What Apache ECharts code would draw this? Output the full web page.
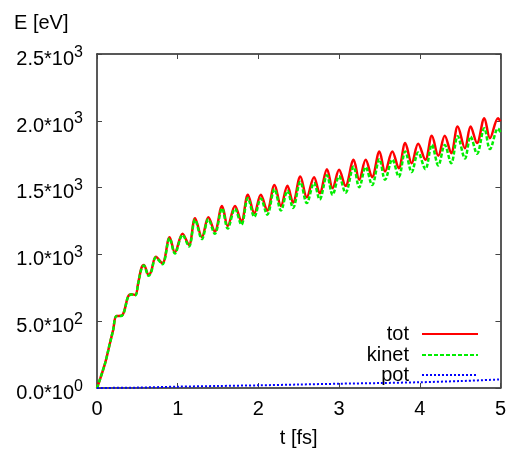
<!DOCTYPE html>
<html>
<head>
<meta charset="utf-8">
<script src="https://cdn.jsdelivr.net/npm/echarts@6/dist/echarts.min.js"></script>
<style>
html,body{margin:0;padding:0;background:#fff;}
#c{width:509px;height:455px;}
</style>
</head>
<body>
<div id="c"></div>
<script>
// ---- data ----
const tValues = [0,0.10,0.16,0.20,0.24,0.30,0.335,0.385,0.425,0.475,0.51,0.55,0.58,0.64,0.67,0.73,0.81,0.90,0.965,1.06,1.14,1.215,1.30,1.38,1.46,1.55,1.62,1.71,1.79,1.87,1.95,2.03,2.11,2.20,2.28,2.36,2.43,2.52,2.60,2.69,2.76,2.85,2.92,3.00,3.08,3.18,3.25,3.33,3.41,3.50,3.57,3.66,3.74,3.82,3.90,3.98,4.07,4.15,4.23,4.31,4.39,4.47,4.56,4.63,4.71,4.80,4.87,4.97,5.00];
const totValues = [0,185,335,434,539,540,571,684,702,697,784,897,921,846,871,983,934,1129,1015,1155,1071,1271,1129,1278,1171,1363,1213,1363,1246,1446,1308,1446,1328,1520,1363,1513,1388,1583,1428,1578,1458,1638,1496,1633,1513,1708,1558,1708,1578,1770,1620,1770,1645,1833,1683,1828,1708,1888,1738,1888,1758,1957,1795,1957,1833,2020,1870,2020,1995];
const kinetValues = [0,185,335,433,538,539,569,682,699,694,780,892,916,840,865,976,927,1121,1006,1145,1060,1259,1115,1263,1154,1345,1193,1342,1222,1422,1281,1419,1297,1489,1328,1477,1348,1543,1384,1535,1411,1592,1446,1585,1461,1657,1502,1654,1519,1713,1559,1710,1581,1771,1616,1763,1638,1821,1666,1819,1683,1885,1718,1883,1753,1944,1788,1942,1915];
const potT = [0,0.5,1,1.5,2,2.5,3,3.5,4,4.5,5];
const potValues = [0,3,10,15,20,26,32,37,43,52,64];
const seriesNames = ['tot','kinet','pot'];
const xTicks = [0,1,2,3,4,5];
const yTicks = [0,500,1000,1500,2000,2500];
const yMantissa = ['0.0','5.0','1.0','1.5','2.0','2.5'];
const yExponent = ['0','2','3','3','3','3'];
const xName = 't [fs]';
const yName = 'E [eV]';

const FONT = 'Liberation Sans, Arial, sans-serif';
const pairs = (xs, ys) => xs.map((x, i) => [x, ys[i]]);

const chart = echarts.init(document.getElementById('c'), null, {renderer: 'canvas'});
const axisLine = {show: true, onZero: false, lineStyle: {color: '#222', width: 1.5}};
const tick = {show: true, inside: true, length: 5, lineStyle: {color: '#444', width: 1}};

const legendBase = {
  orient: 'vertical', align: 'right', right: 30, padding: 0,
  itemWidth: 56, itemHeight: 14, selectedMode: false,
  itemStyle: {opacity: 0},
  textStyle: {fontSize: 20, color: '#000', fontFamily: FONT, padding: [0, 8, 0, 0]}
};

chart.setOption({
  animation: false,
  backgroundColor: '#fff',
  title: {text: yName, left: 14, top: 13, padding: 0,
    textStyle: {fontSize: 20, fontWeight: 'normal', color: '#000', fontFamily: FONT}},
  grid: {left: 97, right: 5, top: 54, bottom: 67, containLabel: false},
  legend: [
    Object.assign({}, legendBase, {data: [seriesNames[0]], top: 324}),
    Object.assign({}, legendBase, {data: [seriesNames[1]], top: 345}),
    Object.assign({}, legendBase, {data: [seriesNames[2]], top: 365})
  ],
  xAxis: [
    {type: 'value', min: xTicks[0], max: xTicks[xTicks.length - 1], interval: 1, position: 'bottom',
     name: xName, nameLocation: 'middle', nameGap: 40,
     nameTextStyle: {fontSize: 20, color: '#000', fontFamily: FONT},
     axisLine, axisTick: tick, splitLine: {show: false},
     axisLabel: {fontSize: 20, color: '#000', fontFamily: FONT, margin: 11}},
    {type: 'value', min: xTicks[0], max: xTicks[xTicks.length - 1], interval: 1, position: 'top',
     axisLine, axisTick: tick, splitLine: {show: false}, axisLabel: {show: false}}
  ],
  yAxis: [
    {type: 'value', min: yTicks[0], max: yTicks[yTicks.length - 1], interval: 500, position: 'left',
     axisLine, axisTick: tick, splitLine: {show: false},
     axisLabel: {margin: 14, color: '#000',
       formatter: (v) => {
         const i = yTicks.indexOf(v);
         return '{m|' + yMantissa[i] + '*10}{e|' + yExponent[i] + '}';
       },
       rich: {
         m: {fontSize: 20, fontFamily: FONT, color: '#000', padding: [10.5, 0, 0, 0]},
         e: {fontSize: 16, fontFamily: FONT, color: '#000', padding: [5.5, 0, 9, 0]}
       }}},
    {type: 'value', min: yTicks[0], max: yTicks[yTicks.length - 1], interval: 500, position: 'right',
     axisLine, axisTick: tick, splitLine: {show: false}, axisLabel: {show: false}}
  ],
  series: [
    {name: seriesNames[0], type: 'line', data: pairs(tValues, totValues), smooth: 0.35,
     symbol: 'none', showSymbol: false, color: '#ff0000',
     lineStyle: {color: '#ff0000', width: 2.5, type: 'solid'}, z: 2},
    {name: seriesNames[1], type: 'line', data: pairs(tValues, kinetValues), smooth: 0.35,
     symbol: 'none', showSymbol: false, color: '#00ee00',
     lineStyle: {color: '#00ee00', width: 2.5, type: [4, 2]}, z: 3},
    {name: seriesNames[2], type: 'line', data: pairs(potT, potValues), smooth: 0.3,
     symbol: 'none', showSymbol: false, color: '#0000ff',
     lineStyle: {color: '#0000ff', width: 2, type: [2, 2]}, z: 4}
  ]
});
</script>
</body>
</html>
